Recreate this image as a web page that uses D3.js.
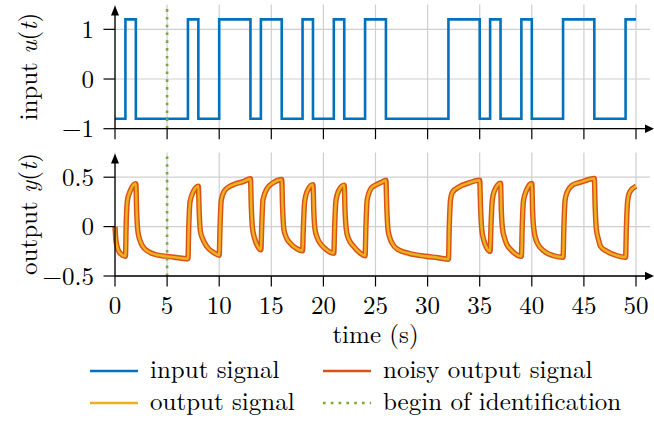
<!DOCTYPE html>
<html>
<head>
<meta charset="utf-8">
<script src="https://cdn.jsdelivr.net/npm/d3@7"></script>
<style>
  html, body { margin: 0; padding: 0; background: #fff; }
  svg { display: block; }
</style>
</head>
<body>
<svg id="chart" width="654" height="422"></svg>
<script>
// ---------------- data ----------------
const xTicks = [0, 5, 10, 15, 20, 25, 30, 35, 40, 45, 50];
const inputTicks = [-1, 0, 1];
const inputTickLabels = ["\u22121", "0", "1"];
const outputTicks = [-0.5, 0, 0.5];
const outputTickLabels = ["\u22120.5", "0", "0.5"];

// input: switching times and levels (piecewise constant, step after)
const inputTime  = [0, 1, 2, 7, 8, 10, 13, 14, 16, 18, 19, 21, 22, 24, 26, 32, 35, 36, 37, 39, 40, 43, 46, 49, 50];
const inputValue = [-0.8, 1.2, -0.8, 1.2, -0.8, 1.2, -0.8, 1.2, -0.8, 1.2, -0.8, 1.2, -0.8, 1.2, -0.8, 1.2, -0.8, 1.2, -0.8, 1.2, -0.8, 1.2, -0.8, 1.2, 1.2];

// output signal
const outputTime = [
  0, 0.1, 0.3, 0.6, 1.0,
  1.08, 1.2, 1.5, 2.0,
  2.08, 2.2, 2.4, 2.8, 3.8, 5.7, 7.0,
  7.08, 7.2, 7.5, 8.0,
  8.08, 8.2, 8.4, 8.8, 9.5, 10.0,
  10.08, 10.2, 10.5, 10.9, 11.5, 12.3, 13.0,
  13.08, 13.2, 13.4, 13.7, 14.0,
  14.08, 14.2, 14.6, 15.2, 16.0,
  16.08, 16.2, 16.4, 16.8, 17.4, 18.0,
  18.08, 18.2, 18.5, 19.0,
  19.08, 19.2, 19.4, 19.8, 20.3, 21.0,
  21.08, 21.2, 21.5, 22.0,
  22.08, 22.2, 22.4, 22.9, 23.5, 24.0,
  24.08, 24.2, 24.6, 25.0, 25.6, 26.0,
  26.08, 26.2, 26.4, 26.6, 27.2, 28.2, 29.8, 31.0, 32.0,
  32.08, 32.2, 32.4, 33.0, 33.9, 35.0,
  35.08, 35.2, 35.4, 35.6, 36.0,
  36.08, 36.2, 36.4, 37.0,
  37.08, 37.2, 37.4, 37.6, 38.0, 39.0,
  39.08, 39.2, 39.5, 40.0,
  40.08, 40.2, 40.5, 41.2, 42.1, 43.0,
  43.08, 43.2, 43.4, 43.9, 44.7, 46.0,
  46.08, 46.2, 46.4, 46.6, 47.2, 48.2, 49.0,
  49.08, 49.2, 49.4, 50.0
];
const outputValue = [
  0, -0.15, -0.235, -0.28, -0.30,
  0.05, 0.27, 0.37, 0.435,
  0.15, -0.05, -0.14, -0.22, -0.28, -0.31, -0.325,
  0.0, 0.25, 0.35, 0.41,
  0.15, -0.05, -0.12, -0.20, -0.265, -0.29,
  0.0, 0.27, 0.36, 0.40, 0.43, 0.455, 0.485,
  0.2, -0.02, -0.12, -0.20, -0.235,
  0.0, 0.27, 0.385, 0.445, 0.477,
  0.2, -0.02, -0.10, -0.167, -0.22, -0.245,
  0.0, 0.25, 0.37, 0.425,
  0.15, -0.03, -0.11, -0.184, -0.235, -0.27,
  0.0, 0.26, 0.37, 0.42,
  0.15, -0.03, -0.12, -0.20, -0.265, -0.295,
  0.0, 0.27, 0.39, 0.42, 0.45, 0.47,
  0.2, -0.03, -0.12, -0.17, -0.235, -0.27, -0.30, -0.315, -0.33,
  0.0, 0.27, 0.35, 0.40, 0.44, 0.47,
  0.2, -0.03, -0.14, -0.20, -0.25,
  0.0, 0.26, 0.36, 0.44,
  0.15, -0.03, -0.12, -0.18, -0.235, -0.30,
  0.0, 0.26, 0.37, 0.436,
  0.15, -0.03, -0.16, -0.25, -0.295, -0.31,
  0.0, 0.27, 0.35, 0.42, 0.45, 0.487,
  0.2, -0.03, -0.13, -0.20, -0.25, -0.295, -0.31,
  0.0, 0.26, 0.35, 0.41
];
// noisy output follows the same readings (noise band drawn wider)
const noisyTime = outputTime.slice();
const noisyValue = outputValue.slice();

const identStart = 5;
const legendLabels = ["input signal", "noisy output signal", "output signal", "begin of identification"];

// ---------------- drawing ----------------
const colors = { input: "#0072BD", noisy: "#D95319", output: "#EDB120", ident: "#77AC30" };
const FONT = '"Latin Modern Roman", "Liberation Serif", serif';
const svg = d3.select("#chart");
const FS = 25;

const x = d3.scaleLinear().domain([0, 50]).range([115, 636]);
const xEnd = 650;
const yIn = d3.scaleLinear().domain([-1, 1.5]).range([128.7, 4.5]);
const yOut = d3.scaleLinear().domain([-0.5, 0.75]).range([276, 152.5]);

function panel(y, ticks) {
  const g = svg.append("g");
  const y0 = y.range()[0], y1 = y.range()[1];
  g.selectAll(".vg").data(xTicks).enter().append("line")
    .attr("x1", d => x(d)).attr("x2", d => x(d)).attr("y1", y0).attr("y2", y1)
    .attr("stroke", "#cfcfcf").attr("stroke-width", 1.2);
  g.selectAll(".hg").data(ticks).enter().append("line")
    .attr("x1", x(0)).attr("x2", xEnd).attr("y1", d => y(d)).attr("y2", d => y(d))
    .attr("stroke", "#cfcfcf").attr("stroke-width", 1.2);
  return g;
}

function addText(g) {
  return g.append("text").attr("font-family", FONT).attr("font-size", FS).attr("fill", "#000");
}

function axes(y, ticks, labels, showXLabels) {
  const g = svg.append("g");
  const y0 = y.range()[0], y1 = y.range()[1];
  g.append("line").attr("x1", x(0)).attr("x2", xEnd - 2).attr("y1", y0).attr("y2", y0)
    .attr("stroke", "#000").attr("stroke-width", 1.3);
  g.append("path").attr("d", `M${xEnd - 5},${y0 - 4.3} L${xEnd + 4},${y0} L${xEnd - 5},${y0 + 4.3} Z`).attr("fill", "#000");
  g.append("line").attr("x1", x(0)).attr("x2", x(0)).attr("y1", y0).attr("y2", y1 + 9)
    .attr("stroke", "#000").attr("stroke-width", 1.3);
  g.append("path").attr("d", `M${x(0) - 4},${y1 + 11} L${x(0)},${y1 + 1} L${x(0) + 4},${y1 + 11} Z`).attr("fill", "#000");
  g.selectAll(".xt").data(xTicks).enter().append("line")
    .attr("x1", d => x(d)).attr("x2", d => x(d)).attr("y1", y0).attr("y2", y0 + 10.5)
    .attr("stroke", "#000").attr("stroke-width", 1.2);
  g.selectAll(".yt").data(ticks).enter().append("line")
    .attr("x1", x(0) - 11.5).attr("x2", x(0)).attr("y1", d => y(d)).attr("y2", d => y(d))
    .attr("stroke", "#000").attr("stroke-width", 1.2);
  ticks.forEach((d, i) => {
    addText(g).attr("x", 94).attr("y", y(d)).attr("dy", "0.34em")
      .attr("text-anchor", "end").text(labels[i]);
  });
  if (showXLabels) {
    xTicks.forEach(d => {
      addText(g).attr("x", x(d)).attr("y", 314).attr("text-anchor", "middle").text(d);
    });
  }
}

function identLine(y) {
  svg.append("line").attr("x1", x(identStart)).attr("x2", x(identStart))
    .attr("y1", y.range()[0]).attr("y2", y.range()[1])
    .attr("stroke", colors.ident).attr("stroke-width", 2.6).attr("stroke-dasharray", "2.6,5.2");
}

// top panel
panel(yIn, inputTicks);
const inLine = d3.line().x(d => x(d[0])).y(d => yIn(d[1])).curve(d3.curveStepAfter);
svg.append("path").datum(inputTime.map((t, i) => [t, inputValue[i]]))
  .attr("d", inLine).attr("fill", "none").attr("stroke", colors.input).attr("stroke-width", 2.6);
identLine(yIn);
axes(yIn, inputTicks, inputTickLabels, false);

// bottom panel
panel(yOut, outputTicks);
const outLine = d3.line().x(d => x(d[0])).y(d => yOut(d[1])).curve(d3.curveMonotoneX);
svg.append("path").datum(noisyTime.map((t, i) => [t, noisyValue[i]]))
  .attr("d", outLine).attr("fill", "none").attr("stroke", colors.noisy).attr("stroke-width", 5.4)
  .attr("stroke-linejoin", "round");
svg.append("path").datum(outputTime.map((t, i) => [t, outputValue[i]]))
  .attr("d", outLine).attr("fill", "none").attr("stroke", colors.output).attr("stroke-width", 2.5)
  .attr("stroke-linejoin", "round");
identLine(yOut);
axes(yOut, outputTicks, outputTickLabels, true);

// y labels
function ylabel(cx, cy, pre, varName) {
  const t = addText(svg).attr("transform", `translate(${cx},${cy}) rotate(-90)`)
    .attr("text-anchor", "middle");
  t.append("tspan").text(pre + " ");
  t.append("tspan").attr("font-style", "italic").text(varName);
  t.append("tspan").text("(");
  t.append("tspan").attr("font-style", "italic").text("t");
  t.append("tspan").text(")");
}
ylabel(37, 66.6, "input", "u");
ylabel(37, 214, "output", "y");

// x label
addText(svg).attr("x", x(25)).attr("y", 343).attr("text-anchor", "middle").text("time (s)");

// legend
const legendItems = [
  { label: legendLabels[0], color: colors.input, dash: null, col: 0, row: 0 },
  { label: legendLabels[1], color: colors.noisy, dash: null, col: 1, row: 0 },
  { label: legendLabels[2], color: colors.output, dash: null, col: 0, row: 1 },
  { label: legendLabels[3], color: colors.ident, dash: "2.6,5.2", col: 1, row: 1 }
];
const colX = [90, 323];
const rowY = [371, 403];
const lg = svg.append("g");
legendItems.forEach(it => {
  lg.append("line").attr("x1", colX[it.col]).attr("x2", colX[it.col] + 48)
    .attr("y1", rowY[it.row]).attr("y2", rowY[it.row])
    .attr("stroke", it.color).attr("stroke-width", 2.6)
    .attr("stroke-dasharray", it.dash);
  addText(lg).attr("x", colX[it.col] + 60).attr("y", rowY[it.row] + 7).text(it.label);
});
</script>
</body>
</html>
